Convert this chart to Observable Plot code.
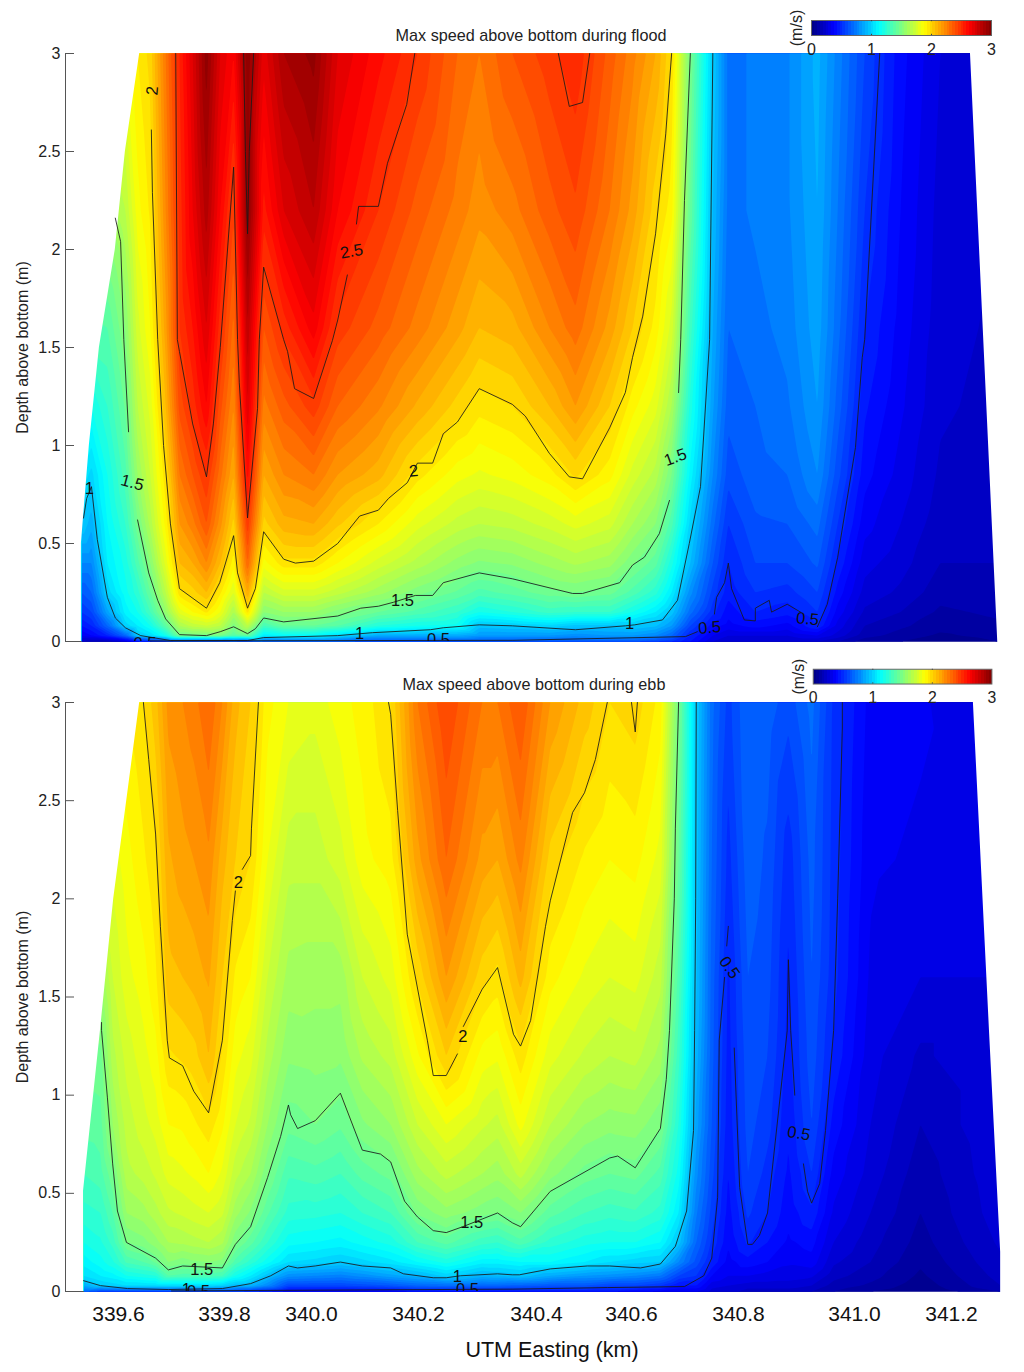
<!DOCTYPE html>
<html><head><meta charset="utf-8">
<style>
html,body{margin:0;padding:0;background:#fff;width:1024px;height:1372px;overflow:hidden;font-family:"Liberation Sans",Arial,sans-serif}
.p{position:absolute}
svg{display:block;background:transparent !important;overflow:visible}
</style>
<script src="https://cdn.jsdelivr.net/npm/d3@7"></script>
<script src="https://cdn.jsdelivr.net/npm/@observablehq/plot@0.6"></script>
</head><body>
<div class="p" id="a" style="left:0;top:0"></div>
<div class="p" id="b" style="left:0;top:660px"></div>
<div class="p" id="ca" style="left:790px;top:0"></div>
<div class="p" id="cb" style="left:792px;top:649px"></div>
<script>
// depth levels (m above bottom) shared by both sections
const depths = [0,.03,.08,.15,.25,.4,.6,.85,1.2,1.6,2.2,3];
const tickKm = [339.6,339.8,340.0,340.2,340.4,340.6,340.8,341.0,341.2];
const depthTicks = [0,.5,1,1.5,2,2.5,3];
const colorTicks = [0,1,2,3];

// FLOOD: stations (km) and speed profiles (m/s) at each depth
const floodKm = [339.530,339.549,339.579,339.613,339.636,339.660,339.689,339.715,339.740,339.766,339.792,339.821,339.853,339.890,339.936,340.004,340.049,340.125,340.198,340.266,340.303,340.359,340.427,340.482,340.554,340.602,340.645,340.675,340.710,340.752,340.781,340.829,340.884,340.936,340.971,341.021,341.095,341.177,341.295];
const floodSpeed = [
[.25,.35,.45,.55,.65,.8,1.0,1.1,1.25,1.4,1.6,1.8],
[.2,.4,.5,.6,.7,.8,.92,1.03,1.2,1.38,1.6,1.8],
[.2,.5,.7,.88,1.02,1.1,1.15,1.2,1.3,1.4,1.6,1.8],
[.3,.7,1.02,1.12,1.18,1.22,1.3,1.38,1.46,1.55,1.7,1.85],
[.45,1.0,1.1,1.2,1.28,1.38,1.49,1.6,1.7,1.78,1.88,1.95],
[.5,1.05,1.2,1.35,1.45,1.55,1.67,1.75,1.82,1.9,1.96,2.02],
[.55,1.2,1.42,1.58,1.7,1.82,1.92,1.99,2.1,2.18,2.25,2.3],
[.6,1.48,1.65,1.82,1.98,2.1,2.2,2.3,2.42,2.5,2.52,2.55],
[.6,1.5,1.72,1.9,2.03,2.15,2.28,2.4,2.52,2.6,2.7,2.75],
[.6,1.5,1.75,1.96,2.1,2.25,2.4,2.5,2.65,2.75,2.88,2.98],
[.6,1.5,1.7,1.85,1.96,2.1,2.22,2.32,2.42,2.52,2.65,2.75],
[.65,1.4,1.52,1.65,1.8,1.92,2.03,2.15,2.25,2.33,2.46,2.65],
[.6,1.45,1.7,1.97,2.15,2.35,2.49,2.62,2.75,2.85,3.0,3.0],
[.7,1.1,1.35,1.55,1.7,1.88,2.03,2.15,2.28,2.4,2.58,2.72],
[.7,1.15,1.45,1.6,1.78,1.98,2.13,2.25,2.38,2.52,2.75,2.9],
[.7,1.15,1.45,1.6,1.78,1.98,2.15,2.3,2.48,2.68,2.85,2.97],
[.7,1.05,1.4,1.53,1.72,1.9,2.06,2.2,2.35,2.48,2.65,2.75],
[.65,.9,1.25,1.45,1.62,1.78,1.95,2.12,2.26,2.38,2.5,2.62],
[.65,.9,1.2,1.38,1.52,1.68,1.82,1.97,2.14,2.28,2.38,2.5],
[.65,.9,1.18,1.3,1.44,1.58,1.73,1.87,2.03,2.17,2.28,2.35],
[.65,.85,.98,1.2,1.38,1.54,1.7,1.84,1.97,2.1,2.22,2.3],
[.65,.85,1.0,1.25,1.42,1.56,1.72,1.87,2.0,2.13,2.28,2.4],
[.65,.85,1.03,1.32,1.48,1.62,1.77,1.93,2.1,2.25,2.38,2.48],
[.65,.82,.98,1.3,1.5,1.66,1.82,2.01,2.2,2.33,2.44,2.54],
[.65,.85,.98,1.3,1.47,1.62,1.77,1.92,2.05,2.18,2.3,2.38],
[.65,.85,1.0,1.2,1.38,1.51,1.65,1.78,1.92,2.05,2.18,2.27],
[.6,.8,.96,1.1,1.27,1.42,1.55,1.68,1.82,1.93,2.02,2.15],
[.55,.7,.85,.98,1.1,1.22,1.37,1.5,1.65,1.78,1.92,2.0],
[.45,.5,.6,.72,.82,.95,1.03,1.13,1.23,1.33,1.44,1.5],
[.3,.35,.42,.52,.58,.65,.72,.8,.86,.9,.95,1.0],
[.25,.3,.38,.42,.47,.5,.55,.62,.67,.7,.73,.73],
[.25,.3,.42,.5,.55,.6,.64,.68,.7,.73,.76,.76],
[.25,.3,.38,.47,.53,.6,.65,.7,.74,.77,.79,.79],
[.25,.35,.5,.55,.6,.66,.72,.8,.85,.88,.9,.92],
[.2,.28,.33,.38,.43,.49,.55,.62,.68,.72,.75,.78],
[.12,.17,.2,.24,.28,.32,.37,.42,.46,.5,.55,.6],
[.1,.13,.16,.2,.24,.27,.3,.33,.36,.38,.4,.42],
[.06,.09,.12,.14,.17,.2,.22,.24,.26,.27,.28,.3],
[.1,.12,.14,.16,.18,.2,.21,.22,.23,.24,.25,.27]
];

// EBB: stations (km) and speed profiles (m/s) at each depth
const ebbKm = [339.534,339.566,339.589,339.615,339.647,339.670,339.694,339.721,339.742,339.770,339.796,339.825,339.860,339.899,339.947,340.007,340.054,340.095,340.148,340.198,340.247,340.308,340.334,340.373,340.429,340.501,340.554,340.607,340.654,340.688,340.721,340.750,340.781,340.816,340.850,340.886,340.926,340.964,341.033,341.136,341.301];
const ebbSpeed = [
[.7,.9,1.05,1.12,1.2,1.28,1.35,1.42,1.5,1.55,1.7,1.8],
[.6,1.0,1.1,1.18,1.24,1.3,1.38,1.43,1.48,1.6,1.75,1.85],
[.6,1.02,1.13,1.24,1.32,1.4,1.49,1.6,1.68,1.75,1.82,1.9],
[.6,1.05,1.2,1.36,1.5,1.6,1.68,1.72,1.77,1.83,1.88,1.95],
[.6,1.05,1.23,1.4,1.53,1.63,1.72,1.78,1.83,1.88,1.94,2.0],
[.6,1.05,1.25,1.46,1.58,1.68,1.76,1.82,1.88,1.94,1.99,2.08],
[.6,1.05,1.4,1.55,1.65,1.74,1.82,1.9,1.99,2.08,2.14,2.22],
[.6,1.05,1.38,1.52,1.66,1.76,1.84,1.91,2.01,2.1,2.18,2.25],
[.6,1.05,1.38,1.54,1.68,1.78,1.86,1.94,2.03,2.12,2.2,2.28],
[.6,1.05,1.38,1.55,1.7,1.8,1.9,1.98,2.1,2.16,2.24,2.35],
[.6,1.02,1.35,1.53,1.66,1.76,1.84,1.91,1.99,2.05,2.12,2.25],
[.6,.95,1.2,1.38,1.51,1.62,1.72,1.8,1.87,1.94,2.05,2.12],
[.55,.93,1.1,1.28,1.42,1.54,1.65,1.74,1.82,1.9,2.0,2.05],
[.5,.8,.97,1.17,1.3,1.41,1.51,1.6,1.68,1.75,1.85,1.92],
[.4,.6,.82,1.05,1.17,1.28,1.36,1.47,1.56,1.63,1.72,1.85],
[.4,.6,.8,1.03,1.15,1.27,1.38,1.5,1.57,1.62,1.72,1.82],
[.4,.6,.78,1.0,1.13,1.25,1.35,1.46,1.56,1.62,1.78,1.88],
[.4,.62,.82,1.03,1.17,1.3,1.42,1.54,1.66,1.75,1.88,1.92],
[.4,.65,.88,1.08,1.22,1.35,1.47,1.6,1.72,1.82,1.93,2.0],
[.45,.7,.93,1.15,1.35,1.51,1.63,1.75,1.89,2.01,2.18,2.3],
[.45,.72,1.02,1.22,1.42,1.58,1.72,1.85,2.05,2.2,2.35,2.45],
[.45,.7,.93,1.12,1.32,1.52,1.65,1.76,1.88,2.02,2.18,2.3],
[.45,.7,.95,1.12,1.3,1.5,1.62,1.73,1.86,1.98,2.15,2.3],
[.45,.68,.98,1.15,1.38,1.55,1.72,1.87,1.98,2.12,2.27,2.4],
[.45,.65,.9,1.15,1.28,1.42,1.57,1.7,1.82,1.92,2.03,2.2],
[.45,.65,.85,1.1,1.22,1.35,1.48,1.6,1.74,1.84,1.94,2.08],
[.45,.6,.83,1.05,1.2,1.32,1.45,1.57,1.7,1.8,1.9,2.0],
[.4,.6,.8,1.02,1.2,1.34,1.47,1.58,1.72,1.82,1.92,2.03],
[.38,.55,.75,1.0,1.15,1.28,1.38,1.51,1.63,1.72,1.83,1.93],
[.35,.45,.6,.8,.98,1.1,1.18,1.25,1.32,1.38,1.45,1.5],
[.35,.45,.55,.63,.7,.76,.82,.88,.93,.96,.98,1.0],
[.28,.32,.4,.49,.54,.58,.62,.65,.67,.68,.7,.72],
[.28,.3,.35,.38,.41,.43,.45,.47,.48,.49,.53,.58],
[.22,.28,.35,.43,.51,.56,.6,.62,.63,.65,.68,.7],
[.22,.28,.33,.4,.45,.5,.53,.57,.6,.62,.64,.68],
[.22,.28,.32,.36,.39,.42,.44,.46,.48,.49,.52,.62],
[.2,.25,.31,.38,.42,.49,.55,.6,.63,.65,.67,.72],
[.15,.18,.22,.26,.3,.34,.38,.43,.49,.52,.53,.54],
[.1,.14,.17,.2,.22,.25,.28,.3,.32,.34,.36,.38],
[.05,.07,.09,.11,.13,.15,.17,.2,.24,.3,.34,.36],
[.15,.2,.22,.24,.26,.28,.29,.3,.3,.3,.3,.28]
];

// edges of the sampled section [km, depth]
const floodLeftEdge = [[339.640,3],[339.613,2.5],[339.594,2],[339.564,1.5],[339.545,1],[339.530,.5],[339.530,0]];
const floodRightEdge = [[341.239,3],[341.295,0]];
const ebbLeftEdge = [[339.640,3],[339.619,2.57],[339.591,2],[339.566,1.33],[339.534,.51],[339.534,0]];
const ebbRightEdge = [[341.245,3],[341.278,1.33],[341.301,.2],[341.301,0]];

// isotach traces [km, depth]
const floodLines = [
[[339.534,.63],[339.540,.73],[339.549,.79],[339.560,.52],[339.579,.225],[339.594,.12],[339.613,.07],[339.642,.03],[339.698,.005],[339.853,.005],[339.890,.02],[340.049,.03],[340.114,.045],[340.220,.06],[340.242,.07],[340.303,.085],[340.359,.08],[340.482,.06],[340.587,.08],[340.606,.085],[340.658,.11],[340.686,.21],[340.708,.5],[340.729,.79],[340.746,1.54],[340.752,3]],
[[339.660,.003],[340.360,.006],[340.701,.025],[340.723,.05]],
[[340.755,.14],[340.759,.225],[340.774,.3],[340.781,.4],[340.787,.27],[340.810,.11],[340.829,.105],[340.829,.17],[340.853,.21],[340.857,.15],[340.884,.19],[340.907,.15]],
[[340.936,.075],[340.953,.19],[340.971,.43],[341.002,.99],[341.016,1.45],[341.021,1.54],[341.052,3]],
[[339.594,2.16],[339.604,2.04],[339.610,1.54],[339.619,1.07]],
[[339.636,.62],[339.657,.35],[339.674,.21],[339.689,.115],[339.715,.035],[339.766,.03],[339.792,.05],[339.821,.075],[339.853,.04],[339.871,.065],[339.890,.12],[339.936,.1],[340.049,.13],[340.092,.17],[340.125,.18],[340.153,.2],[340.194,.235],[340.224,.235],[340.242,.3],[340.303,.35],[340.359,.32],[340.476,.245],[340.497,.245],[340.575,.3],[340.602,.39],[340.624,.43],[340.652,.55],[340.671,.72]],
[[340.688,1.27],[340.692,1.54],[340.699,2.25],[340.710,3]],
[[339.662,2.61],[339.664,2.29],[339.674,1.54],[339.685,1.0],[339.698,.6],[339.715,.27],[339.766,.17],[339.791,.3],[339.821,.54],[339.830,.35],[339.853,.17],[339.871,.27],[339.890,.56],[339.936,.42],[339.963,.4],[340.004,.41],[340.049,.5],[340.090,.64],[340.125,.67],[340.144,.73],[340.179,.81],[340.198,.91],[340.224,.91],[340.242,1.06],[340.266,1.12],[340.303,1.29],[340.359,1.21],[340.381,1.15],[340.427,.96],[340.469,.84],[340.497,.83],[340.554,1.09],[340.587,1.27],[340.602,1.45],[340.621,1.66],[340.645,2.08],[340.664,2.59],[340.675,3]],
[[339.708,3],[339.711,1.54],[339.715,1.48],[339.740,1.11],[339.766,.84],[339.779,1.11],[339.792,1.5],[339.821,2.42],[339.830,1.54],[339.834,1.32],[339.853,.63],[339.876,1.19],[339.880,1.54],[339.890,1.91],[339.936,1.54],[339.945,1.48],[339.961,1.29],[340.004,1.24],[340.039,1.535],[340.049,1.64],[340.067,1.87]],
[[340.084,2.13],[340.088,2.22],[340.125,2.22],[340.142,2.44],[340.178,2.74],[340.193,3]],
[[340.446,3],[340.469,2.73],[340.497,2.75],[340.512,3]],
[[339.844,3],[339.848,2.5],[339.853,2.08],[339.857,2.5],[339.867,3]]
];
const ebbLines = [
[[339.647,3],[339.657,2.71],[339.670,2.33],[339.679,1.86],[339.692,1.28],[339.696,1.19],[339.721,1.15],[339.742,1.02],[339.770,.91],[339.796,1.28],[339.818,1.89],[339.825,2.04]],
[[339.841,2.15],[339.860,2.22],[339.862,2.36],[339.878,3]],
[[340.144,3],[340.148,2.94],[340.161,2.45],[340.179,1.82],[340.215,1.28],[340.225,1.1],[340.247,1.1],[340.266,1.21]],
[[340.276,1.35],[340.308,1.54],[340.334,1.65],[340.361,1.31],[340.373,1.25],[340.390,1.38],[340.419,1.86],[340.429,1.99],[340.476,2.44],[340.501,2.54],[340.524,2.71],[340.549,3]],
[[340.600,3],[340.607,2.85],[340.611,3]],
[[339.568,1.37],[339.568,1.33],[339.579,.99],[339.589,.65],[339.598,.41],[339.615,.25],[339.670,.17],[339.694,.11],[339.721,.13],[339.796,.12],[339.825,.24],[339.860,.33],[339.899,.58],[339.929,.79],[339.947,.95],[339.952,.9],[339.968,.83],[340.007,.87],[340.054,1.01],[340.095,.72],[340.129,.7],[340.148,.66],[340.174,.46],[340.198,.38],[340.225,.31],[340.247,.3],[340.275,.33],[340.334,.4],[340.359,.35],[340.373,.33],[340.429,.51],[340.554,.68],[340.571,.69],[340.607,.63],[340.654,.83],[340.665,1.08],[340.671,1.33],[340.680,2.0],[340.682,2.36],[340.688,3]],
[[339.534,.055],[339.566,.03],[339.617,.015],[339.694,.01],[339.796,.015],[339.860,.04],[339.906,.08],[339.947,.13],[339.968,.12],[340.007,.13],[340.054,.15],[340.095,.13],[340.148,.12],[340.172,.09],[340.225,.07],[340.247,.07],[340.271,.08],[340.334,.09],[340.359,.085],[340.371,.085],[340.429,.115],[340.507,.13],[340.554,.13],[340.617,.12],[340.654,.14],[340.682,.23],[340.703,.41],[340.716,.82],[340.718,1.33],[340.720,2.0],[340.721,3]],
[[339.700,.003],[340.360,.012],[340.549,.02],[340.699,.025],[340.735,.08],[340.750,.17],[340.761,.48],[340.764,1.28],[340.774,1.6]],
[[340.778,1.76],[340.781,1.86]],
[[340.792,1.24],[340.802,.53],[340.816,.24],[340.824,.24],[340.836,.285],[340.850,.4],[340.871,.97],[340.884,1.33],[340.886,1.69],[340.890,1.33],[340.897,1.0]],
[[340.912,.65],[340.919,.51],[340.926,.45],[340.940,.55],[340.950,.82],[340.964,1.33],[340.971,2.0],[340.979,2.87],[340.979,3]]
];

// inline isotach labels: km, depth, text, rotation
const floodLabels = [
[339.664,2.81,"2",-85],[340.075,1.99,"2.5",-10],[339.626,.81,"1.5",15],[339.545,.78,"1",0],
[340.191,.87,"2",-5],[340.170,.21,"1.5",0],[340.090,.04,"1",0],[340.234,.01,"0.5",0],[339.650,-.01,"0.5",0],
[340.596,.09,"1",0],[340.746,.07,"0.5",-5],[340.919,.115,"0.5",5],[340.682,.94,"1.5",-20]
];
const ebbLabels = [
[339.832,2.08,"2",0],[340.275,1.30,"2",0],[340.290,.35,"1.5",0],[339.757,.11,"1.5",0],
[340.266,.075,"1",0],[340.283,.01,"0.5",0],[339.728,.01,"1",0],[339.751,0,"0.5",0],
[340.783,1.65,"0.5",55],[340.904,.805,"0.5",10]
];

const jetStops = [0,.375,1.125,1.875,2.625,3];
const jetColors = ["#000080","#0000ff","#00ffff","#ffff00","#ff0000","#800000"];
const bands = d3.range(0,3,.05);
const color = {type:"linear",domain:jetStops,range:jetColors,clamp:true};
// the along-track axis is not uniform: tick labels sit at these screen positions
const xDomain = [339.5,...tickKm,341.35];
const xRange = [65,118,224,311,418,536,631,738,854,951,1024];
const alongTrack = d3.scaleLinear().domain(xDomain).range(xRange);
const font = '"Liberation Sans",Arial,sans-serif';

function section({km,speed,left,right,lines,labels,title,titleDx,height,marginTop,marginBottom,xAxis}) {
  const samples = km.flatMap((k,i)=>depths.map((d,j)=>({k,d,v:speed[i][j]})));
  const lo = xDomain[0], hi = xDomain[xDomain.length-1];
  // white outside the sampled section, running a little past the frame so no fill edge shows
  const mask = e => [[e[0][0],3.03],...e,[e[e.length-1][0],-.03]];
  const marks = [
    Plot.contour(samples,{x:"k",y:"d",fill:"v",interpolate:"barycentric",thresholds:bands,stroke:null,pixelSize:1}),
    Plot.areaX(mask(left),{y:d=>d[1],x1:()=>lo,x2:d=>d[0],fill:"white"}),
    Plot.areaX(mask(right),{y:d=>d[1],x1:d=>d[0],x2:()=>hi,fill:"white"}),
    ...lines.map(l=>Plot.line(l,{x:d=>d[0],y:d=>d[1],stroke:"#1a1a1a",strokeWidth:1,strokeOpacity:.85,curve:"linear"})),
    Plot.text(labels,{x:d=>d[0],y:d=>d[1],text:d=>d[2],rotate:d=>d[3],fontSize:16.5,fill:"#111",clip:"frame"}),
    Plot.ruleX([lo],{stroke:"#555",strokeWidth:1}),
    Plot.line([[lo,0],[left[left.length-1][0],0]],{x:d=>d[0],y:d=>d[1],stroke:"#555",strokeWidth:1}),
    Plot.axisY({ticks:depthTicks,tickSize:-9,tickFormat:()=>"",stroke:"#555",label:null,anchor:"left"}),
    Plot.axisY({ticks:depthTicks,tickSize:0,tickPadding:5,tickFormat:d=>String(d),fontSize:16,fill:"#222",label:null,anchor:"left"}),
    Plot.text(["Depth above bottom (m)"],{frameAnchor:"left",textAnchor:"middle",lineAnchor:"middle",dx:-43,rotate:-90,fontSize:16,fill:"#222"}),
    Plot.text([title],{frameAnchor:"top",textAnchor:"middle",lineAnchor:"middle",dx:titleDx,dy:-18,fontSize:16.2,fill:"#222"})
  ];
  if (xAxis) marks.push(
    Plot.text(tickKm,{x:d=>d,text:d=>d.toFixed(1),frameAnchor:"bottom",lineAnchor:"middle",dy:23,fontSize:21,fill:"#111"}),
    Plot.text(["UTM Easting (km)"],{frameAnchor:"bottom",lineAnchor:"middle",textAnchor:"middle",dx:7,dy:59,fontSize:21.5,fill:"#111"})
  );
  return Plot.plot({width:1024,height,marginLeft:65,marginRight:0,marginTop,marginBottom,
    style:{fontFamily:font,background:"transparent",overflow:"visible"},
    x:{domain:[65,1024],range:[65,1024],transform:k=>alongTrack(k),axis:null},
    y:{domain:[0,3],axis:null},
    color,
    marks});
}

function colorbar(width) {
  const levels = d3.range(0,64).map(i=>(i+.5)*3/64);
  return Plot.plot({width,height:60,marginLeft:21,marginRight:33,marginTop:20,marginBottom:25,
    style:{fontFamily:font,background:"transparent",overflow:"visible"},
    x:{domain:[0,3],axis:null},y:{domain:[0,1],axis:null},color,
    marks:[
      Plot.raster(levels,{width:64,height:1,x1:0,x2:3,y1:0,y2:1,fill:d=>d,imageRendering:"pixelated"}),
      Plot.frame({stroke:"#666",strokeWidth:1}),
      Plot.ruleX([1,2],{y1:0,y2:.08,stroke:"#444"}),
      Plot.ruleX([1,2],{y1:.92,y2:1,stroke:"#444"}),
      Plot.axisX({ticks:colorTicks,tickSize:0,tickPadding:8,tickFormat:d=>String(d),fontSize:16,fill:"#222",label:null,anchor:"bottom"}),
      Plot.text(["(m/s)"],{frameAnchor:"left",textAnchor:"middle",lineAnchor:"middle",dx:-15,dy:0,rotate:-90,fontSize:16,fill:"#222"})
    ]});
}

document.getElementById("a").append(section({km:floodKm,speed:floodSpeed,left:floodLeftEdge,right:floodRightEdge,lines:floodLines,labels:floodLabels,
  title:"Max speed above bottom during flood",titleDx:-14,height:660,marginTop:53,marginBottom:19,xAxis:false}));
document.getElementById("b").append(section({km:ebbKm,speed:ebbSpeed,left:ebbLeftEdge,right:ebbRightEdge,lines:ebbLines,labels:ebbLabels,
  title:"Max speed above bottom during ebb",titleDx:-11,height:712,marginTop:42,marginBottom:81,xAxis:true}));
document.getElementById("ca").append(colorbar(234));
document.getElementById("cb").append(colorbar(235));
</script>
</body></html>
